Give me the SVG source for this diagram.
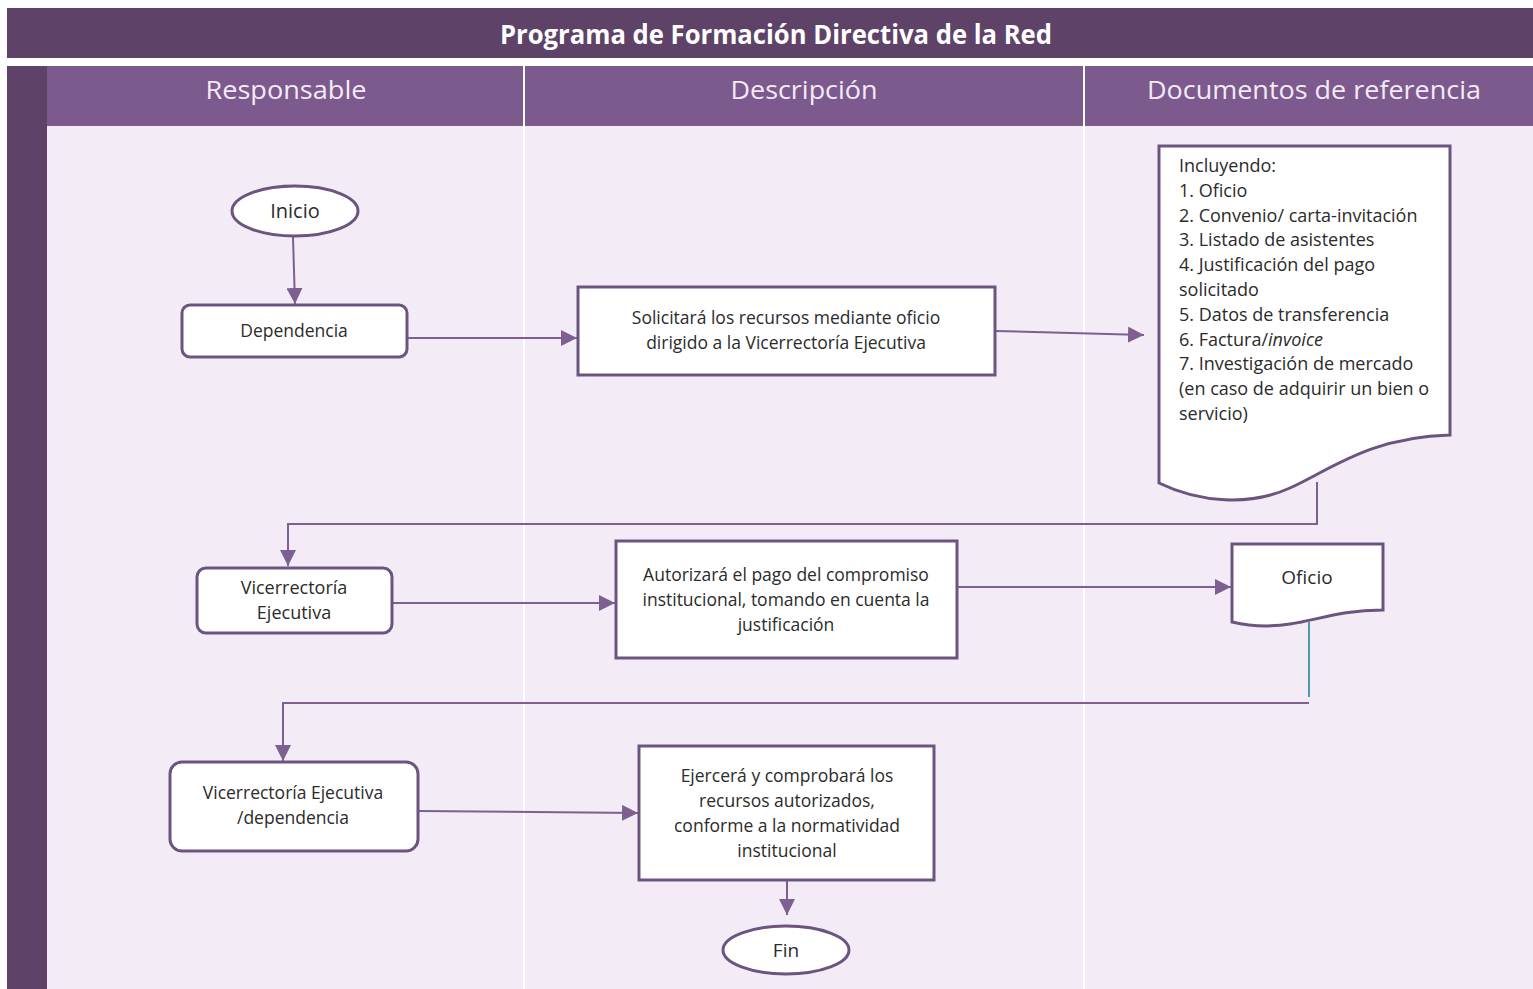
<svg xmlns="http://www.w3.org/2000/svg" width="1533" height="989" viewBox="0 0 1533 989">
<style>
.hdr{font-family:"Open Sans","Liberation Sans",sans-serif;font-size:26px;fill:#f3eaf6;text-anchor:middle}
.ttl{font-family:"Open Sans","Liberation Sans",sans-serif;font-size:26px;font-weight:bold;fill:#ffffff;text-anchor:middle}
.node{fill:#ffffff;stroke:#6c5480;stroke-width:3}
.t{font-family:"Open Sans","Liberation Sans",sans-serif;font-size:17.5px;fill:#2b2b2b;text-anchor:middle}
.tl{font-family:"Open Sans","Liberation Sans",sans-serif;font-size:18px;fill:#2b2b2b}
.conn{fill:none;stroke:#7d6091;stroke-width:2}
</style>
<defs>
<marker id="arr" viewBox="0 0 10 10" refX="10" refY="5" markerWidth="16" markerHeight="16" markerUnits="userSpaceOnUse" orient="auto">
<path d="M0,0 L10,5 L0,10 Z" fill="#7d6091"/>
</marker>
</defs>
<rect x="0" y="0" width="1533" height="989" fill="#ffffff"/>
<g id="frame">
<rect x="7" y="8" width="1526" height="50" fill="#5e4268"/>
<text class="ttl" x="776" y="44" textLength="552" lengthAdjust="spacingAndGlyphs">Programa de Formación Directiva de la Red</text>
<rect x="7" y="66" width="40" height="923" fill="#5e4268"/>
<rect x="47" y="66" width="1486" height="60" fill="#7c5a8d"/>
<rect x="47" y="126" width="1486" height="863" fill="#f3ecf6"/>
<line x1="524" y1="66" x2="524" y2="989" stroke="#ffffff" stroke-width="2"/>
<line x1="1084" y1="66" x2="1084" y2="989" stroke="#ffffff" stroke-width="2"/>
<text class="hdr" x="286" y="99" textLength="161" lengthAdjust="spacingAndGlyphs">Responsable</text>
<text class="hdr" x="804" y="99" textLength="147" lengthAdjust="spacingAndGlyphs">Descripción</text>
<text class="hdr" x="1314" y="99" textLength="334" lengthAdjust="spacingAndGlyphs">Documentos de referencia</text>
</g>
<g id="connectors">
<line class="conn" x1="293" y1="237" x2="295" y2="304" marker-end="url(#arr)"/>
<line class="conn" x1="400" y1="338" x2="577" y2="338" marker-end="url(#arr)"/>
<line class="conn" x1="995" y1="331" x2="1144" y2="335" marker-end="url(#arr)"/>
<polyline class="conn" points="1317,482 1317,524 288,524 288,566" marker-end="url(#arr)"/>
<line class="conn" x1="392" y1="603" x2="615" y2="603" marker-end="url(#arr)"/>
<line class="conn" x1="957" y1="587" x2="1231" y2="587" marker-end="url(#arr)"/>
<line x1="1309" y1="622" x2="1309" y2="697" stroke="#4a9aa8" stroke-width="2"/>
<polyline class="conn" points="1309,703 283,703 283,761" marker-end="url(#arr)"/>
<line class="conn" x1="418" y1="811" x2="638" y2="813" marker-end="url(#arr)"/>
<line class="conn" x1="787" y1="880" x2="787" y2="915" marker-end="url(#arr)"/>
</g>
<g id="inicio">
<ellipse class="node" cx="295" cy="211" rx="63" ry="25"/>
<text class="t" x="295" y="218" style="font-size:20px">Inicio</text>
</g>
<g id="dependencia">
<rect class="node" x="182" y="305" width="225" height="52" rx="8"/>
<text class="t" x="294" y="337" style="font-size:17.5px">Dependencia</text>
</g>
<g id="solicitara">
<rect class="node" x="578" y="287" width="417" height="88"/>
<text class="t" x="786" y="324">Solicitará los recursos mediante oficio</text>
<text class="t" x="786" y="349">dirigido a la Vicerrectoría Ejecutiva</text>
</g>
<g id="documentos">
<path class="node" d="M1159,146 H1450 V435 C1370,437 1330,470 1290,488 C1250,506 1200,503 1159,483 Z"/>
<text class="tl" x="1179" y="172">Incluyendo:</text>
<text class="tl" x="1179" y="197">1. Oficio</text>
<text class="tl" x="1179" y="222">2. Convenio/ carta-invitación</text>
<text class="tl" x="1179" y="246">3. Listado de asistentes</text>
<text class="tl" x="1179" y="271">4. Justificación del pago</text>
<text class="tl" x="1179" y="296">solicitado</text>
<text class="tl" x="1179" y="321">5. Datos de transferencia</text>
<text class="tl" x="1179" y="346">6. Factura/<tspan font-style="italic">invoice</tspan></text>
<text class="tl" x="1179" y="370">7. Investigación de mercado</text>
<text class="tl" x="1179" y="395">(en caso de adquirir un bien o</text>
<text class="tl" x="1179" y="420">servicio)</text>
</g>
<g id="vicerrectoria">
<rect class="node" x="197" y="568" width="195" height="65" rx="9"/>
<text class="t" x="294" y="594" style="font-size:18px">Vicerrectoría</text>
<text class="t" x="294" y="619" style="font-size:18px">Ejecutiva</text>
</g>
<g id="autorizara">
<rect class="node" x="616" y="541" width="341" height="117"/>
<text class="t" x="786" y="581">Autorizará el pago del compromiso</text>
<text class="t" x="786" y="606">institucional, tomando en cuenta  la</text>
<text class="t" x="786" y="631">justificación</text>
</g>
<g id="oficio">
<path class="node" d="M1232,544 H1383 V610 C1340,610 1318,620 1290,624 C1265,628 1245,625 1232,622 Z"/>
<text class="t" x="1307" y="584" style="font-size:19px">Oficio</text>
</g>
<g id="vicerrectoria-dependencia">
<rect class="node" x="170" y="762" width="248" height="89" rx="12"/>
<text class="t" x="293" y="799">Vicerrectoría Ejecutiva</text>
<text class="t" x="293" y="824">/dependencia</text>
</g>
<g id="ejercera">
<rect class="node" x="639" y="746" width="295" height="134"/>
<text class="t" x="787" y="782">Ejercerá y comprobará los</text>
<text class="t" x="787" y="807">recursos autorizados,</text>
<text class="t" x="787" y="832">conforme a la normatividad</text>
<text class="t" x="787" y="857">institucional</text>
</g>
<g id="fin">
<ellipse class="node" cx="786" cy="950" rx="63" ry="24"/>
<text class="t" x="786" y="957" style="font-size:19px">Fin</text>
</g>
</svg>
